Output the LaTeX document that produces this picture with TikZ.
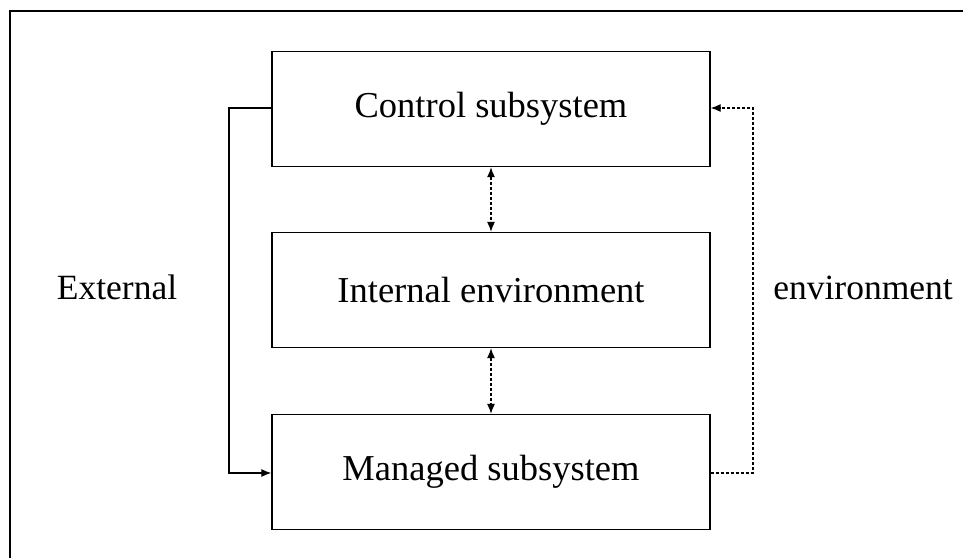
\documentclass[tikz,border=0pt]{standalone}
\usepackage{fontspec}
\setmainfont{Liberation Serif}
\usetikzlibrary{arrows.meta}
\begin{document}
\begin{tikzpicture}[x=1pt,y=-1pt,
  block/.style={draw, line width=1.4pt, minimum width=438pt, minimum height=115pt,
    inner sep=0pt, font=\fontsize{36.5}{40}\selectfont},
  lbl/.style={font=\fontsize{35.5}{40}\selectfont, anchor=base, inner sep=0pt},
  link/.style={line width=1.2pt, -{Latex[length=10pt,width=8pt]}},
  dlink/.style={line width=1.1pt, dash pattern=on 3pt off 2pt},
  dtip/.style={{Latex[length=10pt,width=8pt]}-{Latex[length=10pt,width=8pt]}}]
  \useasboundingbox (0,0) rectangle (963,558);
  % open frame: top and left edges
  \draw[line width=1.5pt] (963,11) -- (10,11) -- (10,558);
  % the three subsystems
  \node[block] (ctrl) at (491,109) {Control subsystem};
  \node[block] (intl) at (491,290) {Internal environment};
  \node[block] (mgd)  at (491,472) {Managed subsystem};
  % side labels
  \node[lbl] (ext) at (117,299) {External};
  \node[lbl] (env) at (863,299) {environment};
  % control to managed, round the left side
  \coordinate (lt) at (229,108);
  \coordinate (lb) at (229,473);
  \draw[link] (ctrl.west |- lt) -- (lt) -- (lb) -- (mgd.west |- lb);
  % feedback from managed back to control, round the right side
  \coordinate (rb) at (753,473);
  \coordinate (rt) at (753,108);
  \draw[dlink, -{Latex[length=10pt,width=8pt]}] (mgd.east |- rb) -- (rb) -- (rt) -- (ctrl.east |- rt);
  % exchanges with the internal environment
  \draw[dlink, dtip] (ctrl.south) -- (intl.north);
  \draw[dlink, dtip] (intl.south) -- (mgd.north);
\end{tikzpicture}
\end{document}
